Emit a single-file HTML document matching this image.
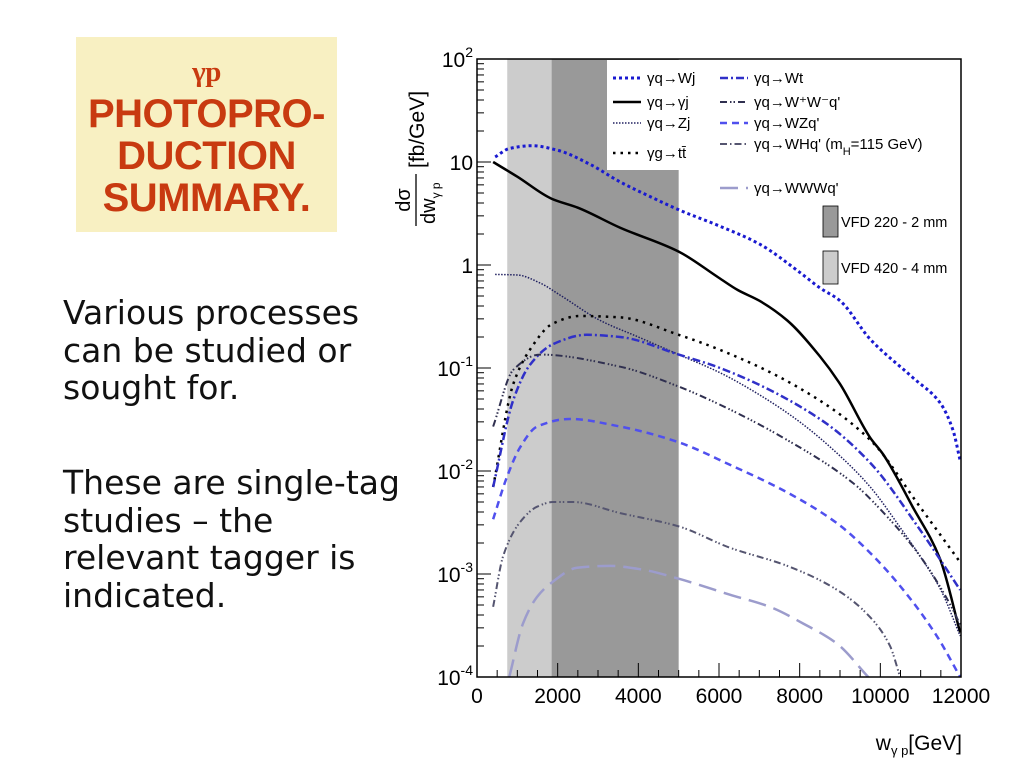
<!DOCTYPE html>
<html><head><meta charset="utf-8"><style>
body{margin:0;background:#fff;width:1024px;height:768px;overflow:hidden;position:relative;font-family:"Liberation Sans",sans-serif}
#title{position:absolute;left:76px;top:37px;width:261px;height:195px;background:#f8f0c2;color:#c83a10;font-weight:bold;font-size:40px;text-align:center;line-height:42px;padding-top:10px;box-sizing:border-box;letter-spacing:-0.5px}
.body{position:absolute;left:63px;font-family:"DejaVu Sans",sans-serif;font-size:33px;line-height:37.5px;color:#111}
</style></head><body>
<div id="title"><span style="font-family:'Liberation Serif',serif;font-size:29px">γp</span><br>PHOTOPRO-<br>DUCTION<br>SUMMARY.</div>
<div class="body" style="top:294px">Various processes<br>can be studied or<br>sought for.</div>
<div class="body" style="top:464px">These are single-tag<br>studies – the<br>relevant tagger is<br>indicated.</div>
<svg id="chart" width="1024" height="768" style="position:absolute;left:0;top:0"></svg>
<script>
const xTicks=[0,2000,4000,6000,8000,10000,12000];
const yDecades=[-4,-3,-2,-1,0,1,2];
const bandLight=[750,1850];
const bandDark=[1850,5000];
const wjX=[450,800,1360,2000,2800,3550,4300,5030,6000,7000,8000,8500,9000,9750,10800,11480,11800,11980];
const wjY=[11.2,13.5,14.4,13,9.5,6.4,4.6,3.4,2.4,1.6,0.85,0.6,0.45,0.19,0.081,0.046,0.025,0.0126];
const gjX=[400,1000,1850,2500,3550,5000,6000,6470,7000,7690,8500,9000,9750,10070,10800,11480,11980];
const gjY=[10,7.2,4.4,3.6,2.3,1.35,0.75,0.57,0.45,0.29,0.13,0.07,0.021,0.0145,0.0045,0.0014,0.00027];
const zjX=[450,1000,1560,2060,3050,4000,5000,6025,7000,8000,9000,9750,10500,10980,11500,11980];
const zjY=[0.81,0.8,0.67,0.51,0.29,0.2,0.135,0.09,0.055,0.03,0.014,0.007,0.0028,0.0015,0.0007,0.00025];
const ttX=[400,900,1310,1880,2550,3550,5000,6025,7930,9750,10980,11980];
const ttY=[0.007,0.07,0.15,0.27,0.32,0.31,0.21,0.15,0.066,0.02,0.0045,0.0013];
const wtX=[400,900,1310,1880,2720,3550,5000,6025,8500,9750,10980,11980];
const wtY=[0.007,0.049,0.107,0.17,0.21,0.2,0.135,0.1,0.032,0.012,0.0027,0.0007];
const wwX=[400,900,1560,3550,5000,6025,7690,9330,10170,10980,11800,11980];
const wwY=[0.027,0.096,0.135,0.103,0.066,0.044,0.02,0.0076,0.0036,0.0015,0.00045,0.00032];
const wzX=[400,740,1070,1490,2300,3550,5000,6270,7690,8930,9750,10570,11400,11980];
const wzY=[0.0034,0.0087,0.017,0.027,0.032,0.027,0.019,0.0115,0.0062,0.0031,0.0016,0.0007,0.00025,0.0001];
const whX=[400,650,1070,1490,1880,2380,3550,5000,6270,7690,8930,9750,10240,10490];
const whY=[0.00048,0.0015,0.0032,0.0045,0.005,0.005,0.0039,0.0029,0.0018,0.0012,0.0007,0.00038,0.0002,0.0001];
const wwwX=[800,1140,1490,1860,2480,3300,4120,5000,6270,7260,8090,8930,9700];
const wwwY=[0.0001,0.00033,0.0006,0.00083,0.00115,0.0012,0.0011,0.0009,0.00063,0.00048,0.00033,0.00021,0.0001];

const L=477,R=961,T=59,B=677;
const sx=v=>L+(v/12000)*(R-L);
const sy=v=>B-(Math.log10(v)+4)/6*(B-T);
const NS='http://www.w3.org/2000/svg';
const svg=document.getElementById('chart');
function mk(tag,attrs,parent){const e=document.createElementNS(NS,tag);for(const k in attrs)e.setAttribute(k,attrs[k]);(parent||svg).appendChild(e);return e;}

let r=mk('rect',{x:sx(bandLight[0]),y:T,width:sx(bandLight[1])-sx(bandLight[0]),height:B-T,fill:'#cccccc'});


r=mk('rect',{x:sx(bandDark[0]),y:T,width:sx(bandDark[1])-sx(bandDark[0]),height:B-T,fill:'#999999'});



function path(xs,ys){const p=xs.map((x,i)=>[sx(x),sy(ys[i])]);const n=p.length;
const dl=[],m=[];for(let i=0;i<n-1;i++)dl.push((p[i+1][1]-p[i][1])/(p[i+1][0]-p[i][0]));
m[0]=dl[0];m[n-1]=dl[n-2];
for(let i=1;i<n-1;i++){if(dl[i-1]*dl[i]<=0)m[i]=0;else{const w1=2*(p[i+1][0]-p[i][0])+(p[i][0]-p[i-1][0]),w2=(p[i+1][0]-p[i][0])+2*(p[i][0]-p[i-1][0]);m[i]=(w1+w2)/(w1/dl[i-1]+w2/dl[i]);}}
let d='M'+p[0][0]+','+p[0][1];
for(let i=0;i<n-1;i++){const h=(p[i+1][0]-p[i][0])/3;
d+=' C'+(p[i][0]+h)+','+(p[i][1]+m[i]*h)+' '+(p[i+1][0]-h)+','+(p[i+1][1]-m[i+1]*h)+' '+p[i+1][0]+','+p[i+1][1];}
return d;}
const series=[
['series-wj',wjX,wjY,'#1a1ad0',3,'3 3'],
['series-gamma-j',gjX,gjY,'#000',2.5,''],
['series-zj',zjX,zjY,'#202060',1.5,'1.5 1.5'],
['series-ttbar',ttX,ttY,'#000',2.5,'2.5 5 2.5 5'],
['series-wt',wtX,wtY,'#3030c8',2.5,'8 3 2 3'],
['series-ww',wwX,wwY,'#303050',2,'7 3 1.5 2 1.5 2 1.5 3'],
['series-wz',wzX,wzY,'#5050ee',2.5,'7 5'],
['series-wh',whX,whY,'#555570',2,'7 3 1.5 2 1.5 3'],
['series-www',wwwX,wwwY,'#9c9ccc',2.5,'18 8']];
const cp=mk('clipPath',{id:'pc'});mk('rect',{x:L,y:T,width:R-L,height:B-T},cp);
for(const s of series){const e=mk('path',{d:path(s[1],s[2]),fill:'none',stroke:s[3],'stroke-width':s[4],'stroke-dasharray':s[5],'clip-path':'url(#pc)'});

}

const lg=mk('g',{});


mk('rect',{x:607,y:60,width:353,height:110,fill:'#fff'},lg);
const leg=[
[613,78,'#1a1ad0',3,'3 3','γq→Wj'],[613,102,'#000',2.5,'','γq→γj'],[613,123,'#202060',1.5,'1.5 1.5','γq→Zj'],[613,153,'#000',2.5,'2.5 5','γg→tt̄'],
[720,78,'#3030c8',2.5,'8 3 2 3','γq→Wt'],[720,102,'#303050',2,'7 3 1.5 2 1.5 3','γq→W⁺W⁻q\''],[720,123,'#5050ee',2.5,'7 5','γq→WZq\''],[720,144,'#555570',2,'7 3 1.5 3','WH'],[720,188,'#9c9ccc',2.5,'18 8','γq→WWWq\'']];
for(const l of leg){mk('line',{x1:l[0],x2:l[0]+28,y1:l[1],y2:l[1],stroke:l[2],'stroke-width':l[3],'stroke-dasharray':l[4]},lg);
const t=mk('text',{x:l[0]+34,y:l[1]+5,'font-size':15,fill:'#000'},lg);


if(l[5]=='WH'){t.textContent='γq→WHq\' (m';const a=mk('tspan',{'font-size':11,dy:6},t);a.textContent='H';const b=mk('tspan',{dy:-6},t);b.textContent='=115 GeV)';}else t.textContent=l[5];}
mk('rect',{x:823,y:206,width:15,height:31,fill:'#999',stroke:'#000','stroke-width':0.8},lg);
mk('rect',{x:823,y:251,width:15,height:33,fill:'#ccc',stroke:'#000','stroke-width':0.8},lg);
let t=mk('text',{x:841,y:227,'font-size':14.5},lg);t.textContent='VFD 220 - 2 mm';
t=mk('text',{x:841,y:273,'font-size':14.5},lg);t.textContent='VFD 420 - 4 mm';

mk('rect',{x:L,y:T,width:R-L,height:B-T,fill:'none',stroke:'#000','stroke-width':1.5});
for(let d=-4;d<2;d++){for(let m=1;m<10;m++){const y=sy(m*Math.pow(10,d));mk('line',{x1:L,x2:L+(m==1?14:7),y1:y,y2:y,stroke:'#000','stroke-width':1});}}
for(const d of yDecades){const y=sy(Math.pow(10,d));const tx=mk('text',{x:L-4,y:y+8,'font-size':21,'text-anchor':'end'});


if(d==0)tx.textContent='1';else if(d==1)tx.textContent='10';else{tx.textContent='10';const s=mk('tspan',{'font-size':14,dy:-10},tx);s.textContent=String(d);}}
for(let v=0;v<=12000;v+=500){const x=sx(v);mk('line',{x1:x,x2:x,y1:B,y2:B-(v%2000==0?14:7),stroke:'#000','stroke-width':1});}
for(const v of xTicks){const tx=mk('text',{x:sx(v),y:B+26,'font-size':21,'text-anchor':'middle'});tx.textContent=v;

}
t=mk('text',{x:962,y:750,'font-size':21,'text-anchor':'end'});


t.textContent='w';let s=mk('tspan',{'font-size':13,dy:5},t);s.textContent='γ p';s=mk('tspan',{dy:-5},t);s.textContent='[GeV]';
const yg=mk('g',{transform:'translate(418,200) rotate(-90)'});


t=mk('text',{x:0,y:-8,'font-size':20,'text-anchor':'middle'},yg);t.textContent='dσ';
mk('line',{x1:-26,x2:26,y1:-2,y2:-2,stroke:'#000','stroke-width':1.3},yg);
t=mk('text',{x:-24,y:17,'font-size':20},yg);t.textContent='dw';s=mk('tspan',{'font-size':12,dy:5},t);s.textContent='γ p';
t=mk('text',{x:32,y:6,'font-size':21},yg);t.textContent='[fb/GeV]';
</script>
</body></html>
